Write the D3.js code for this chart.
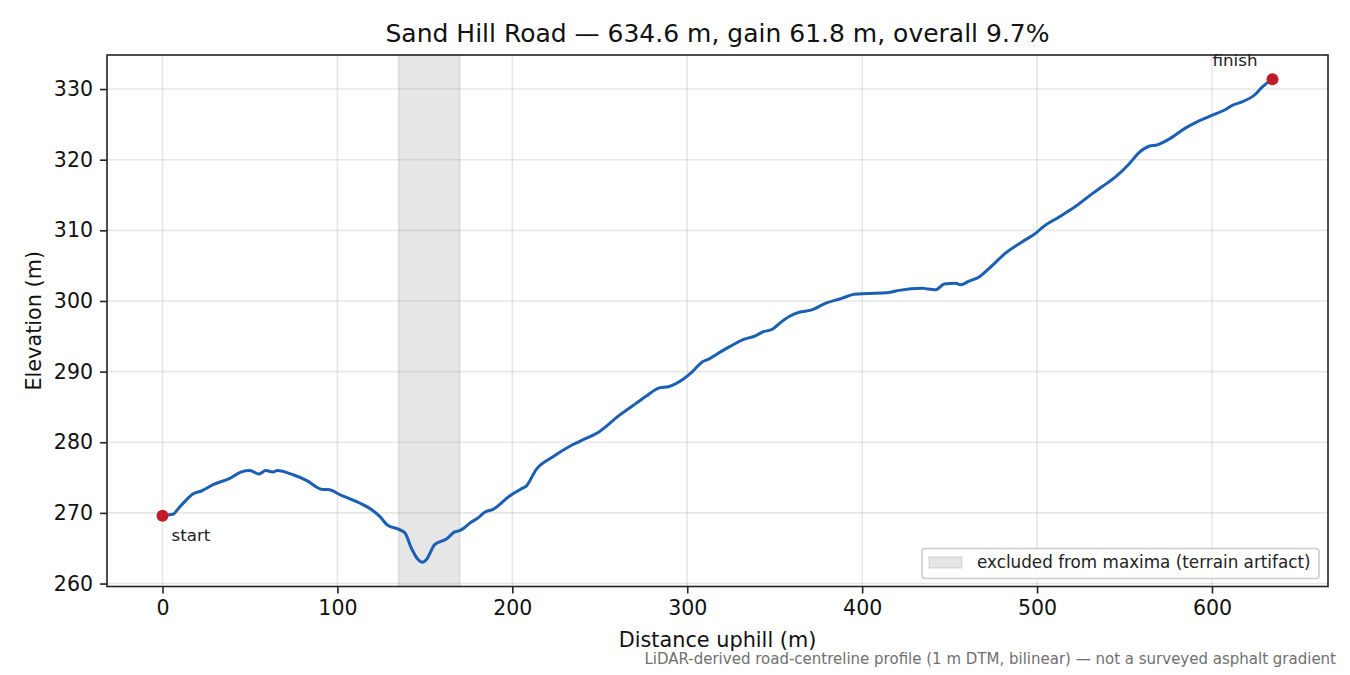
<!DOCTYPE html>
<html>
<head>
<meta charset="utf-8">
<script src="https://cdn.jsdelivr.net/npm/d3@7"></script>
<style>
    body { margin: 0; background: #fff; }
    svg { font-family: "DejaVu Sans", sans-serif; }
</style>
</head>
<body>
<div id="chart"></div>
<script>
// profile, metres along the road / metres elevation
const distance = [0, 3, 6, 9, 12.7, 17.5, 22.3, 29, 38.5, 45.1, 49.9, 55.2, 59, 63.2, 65.5, 74.7, 82.3, 91.8, 94.7,
    101.3, 112.7, 120.4, 124.2, 129, 133.7, 138.5, 142.3, 146.1, 148.6, 150.9, 155.6, 162.3, 167, 169.9, 176.6,
    180.4, 184.2, 189, 198.5, 205.9, 208, 213.5, 223, 232.6, 238.3, 249.7, 261.1, 270.7, 276.4, 284, 289.7, 293.5,
    303, 308.7, 312.6, 316.4, 324, 331.6, 339.3, 343, 348.7, 352.6, 358.3, 364, 370.7, 379.3, 388.7, 394.5, 398.3,
    415.4, 421.1, 434.5, 437.3, 442.1, 446.9, 453.5, 456.4, 461.1, 466.9, 472.6, 482.1, 491.6, 499.3, 503, 512.6,
    522.1, 531.6, 537.3, 545, 552.6, 558.3, 564, 568.8, 575.4, 585, 592.6, 600.2, 607.8, 611.6, 616.4, 625, 628.8,
    634.6];
const elevation = [269.6, 269.7, 269.8, 270.6, 271.6, 272.7, 273.1, 274.0, 274.9, 275.8, 276.0, 275.5, 276.0, 275.8,
    276.0, 275.4, 274.6, 273.3, 273.3, 272.6, 271.4, 270.3, 269.5, 268.2, 267.8, 267.2, 265.0, 263.4, 263.0, 263.4,
    265.5, 266.3, 267.3, 267.5, 268.7, 269.3, 270.1, 270.5, 272.4, 273.5, 273.8, 276.1, 277.9, 279.4, 280.1, 281.5,
    283.8, 285.5, 286.5, 287.7, 287.9, 288.3, 290.0, 291.4, 291.8, 292.4, 293.5, 294.5, 295.1, 295.6, 296.0, 296.8,
    297.8, 298.4, 298.7, 299.7, 300.4, 300.9, 301.0, 301.2, 301.5, 301.8, 301.7, 301.6, 302.4, 302.5, 302.3, 302.8,
    303.4, 304.6, 306.8, 308.4, 309.6, 310.4, 311.9, 313.4, 315.2, 316.2, 317.6, 319.4, 321.0, 321.9, 322.1, 322.9,
    324.5, 325.5, 326.3, 327.1, 327.7, 328.1, 329.3, 330.3, 331.4];
const excludedSpan = [135, 170];
const xTicks = [0, 100, 200, 300, 400, 500, 600];
const yTicks = [260, 270, 280, 290, 300, 310, 320, 330];

const titleText = "Sand Hill Road \u2014 634.6 m, gain 61.8 m, overall 9.7%";
const legendText = "excluded from maxima (terrain artifact)";
const footnoteText = "LiDAR-derived road-centreline profile (1 m DTM, bilinear) \u2014 not a surveyed asphalt gradient";

const width = 1350;
const height = 675;
const margin = { top: 55, right: 22, bottom: 88.5, left: 107 };
const innerWidth = width - margin.left - margin.right;
const innerHeight = height - margin.top - margin.bottom;

const points = distance.map((d, i) => ({ d: d, e: elevation[i] }));

// matplotlib-style 5% padding on both axes
const xExt = d3.extent(distance);
const yExt = d3.extent(elevation);
const xPad = (xExt[1] - xExt[0]) * 0.05;
const yPad = (yExt[1] - yExt[0]) * 0.05;

const x = d3.scaleLinear()
    .domain([xExt[0] - xPad, xExt[1] + xPad])
    .range([0, innerWidth]);

const y = d3.scaleLinear()
    .domain([yExt[0] - yPad, yExt[1] + yPad])
    .range([innerHeight, 0]);

const svg = d3.select("#chart")
    .append("svg")
    .attr("width", width)
    .attr("height", height);

const g = svg.append("g")
    .attr("transform", `translate(${margin.left}, ${margin.top})`);

// excluded band
g.append("rect")
    .attr("x", x(excludedSpan[0]))
    .attr("y", 0)
    .attr("width", x(excludedSpan[1]) - x(excludedSpan[0]))
    .attr("height", innerHeight)
    .attr("fill", "#808080")
    .attr("fill-opacity", 0.2)
    .attr("stroke", "#808080")
    .attr("stroke-opacity", 0.2)
    .attr("stroke-width", 1.5);

// grid
g.append("g")
    .selectAll("line")
    .data(xTicks)
    .join("line")
    .attr("x1", d => x(d))
    .attr("x2", d => x(d))
    .attr("y1", 0)
    .attr("y2", innerHeight)
    .attr("stroke", "#b0b0b0")
    .attr("stroke-opacity", 0.3)
    .attr("stroke-width", 1.6);

g.append("g")
    .selectAll("line")
    .data(yTicks)
    .join("line")
    .attr("x1", 0)
    .attr("x2", innerWidth)
    .attr("y1", d => y(d))
    .attr("y2", d => y(d))
    .attr("stroke", "#b0b0b0")
    .attr("stroke-opacity", 0.3)
    .attr("stroke-width", 1.6);

// profile line
const line = d3.line()
    .x(p => x(p.d))
    .y(p => y(p.e))
    .curve(d3.curveMonotoneX);

g.append("path")
    .datum(points)
    .attr("fill", "none")
    .attr("stroke", "#1a5fb4")
    .attr("stroke-width", 3)
    .attr("stroke-linejoin", "round")
    .attr("stroke-linecap", "round")
    .attr("d", line);

// start / finish markers
const ends = [points[0], points[points.length - 1]];
g.selectAll("circle.end")
    .data(ends)
    .join("circle")
    .attr("class", "end")
    .attr("cx", p => x(p.d))
    .attr("cy", p => y(p.e))
    .attr("r", 6)
    .attr("fill", "#c01c28");

g.append("text")
    .attr("x", x(ends[0].d) + 9)
    .attr("y", y(ends[0].e) + 25)
    .attr("font-size", 16.7)
    .attr("fill", "#222")
    .text("start");

g.append("text")
    .attr("x", x(ends[1].d) - 15)
    .attr("y", y(ends[1].e) - 13)
    .attr("text-anchor", "end")
    .attr("font-size", 16.7)
    .attr("fill", "#222")
    .text("finish");

// axes
const xAxis = d3.axisBottom(x).tickValues(xTicks).tickSize(7).tickPadding(7);
const yAxis = d3.axisLeft(y).tickValues(yTicks).tickSize(7).tickPadding(7);

const xg = g.append("g")
    .attr("transform", `translate(0, ${innerHeight})`)
    .call(xAxis);
const yg = g.append("g").call(yAxis);

[xg, yg].forEach(ax => {
    ax.select(".domain").remove();
    ax.selectAll(".tick line").attr("stroke", "#222").attr("stroke-width", 1.6);
    ax.selectAll(".tick text")
        .attr("font-size", 20.5)
        .attr("font-family", "DejaVu Sans")
        .attr("fill", "#111");
});

// frame
g.append("rect")
    .attr("width", innerWidth)
    .attr("height", innerHeight)
    .attr("fill", "none")
    .attr("stroke", "#222")
    .attr("stroke-width", 1.6);

// legend
const legend = g.append("g")
    .attr("transform", `translate(${innerWidth - 9 - 397}, ${innerHeight - 8 - 30})`);

legend.append("rect")
    .attr("width", 397)
    .attr("height", 30)
    .attr("rx", 3)
    .attr("fill", "#fff")
    .attr("fill-opacity", 0.8)
    .attr("stroke", "#cccccc")
    .attr("stroke-width", 1.6);

legend.append("rect")
    .attr("x", 7)
    .attr("y", 8.5)
    .attr("width", 33)
    .attr("height", 11)
    .attr("fill", "#808080")
    .attr("fill-opacity", 0.2)
    .attr("stroke", "#808080")
    .attr("stroke-opacity", 0.2)
    .attr("stroke-width", 1.5);

legend.append("text")
    .attr("x", 55)
    .attr("y", 19.5)
    .attr("font-size", 16.8)
    .attr("fill", "#222")
    .text(legendText);

// titles and labels
svg.append("text")
    .attr("x", margin.left + innerWidth / 2)
    .attr("y", 42)
    .attr("text-anchor", "middle")
    .attr("font-size", 25)
    .attr("fill", "#111")
    .text(titleText);

svg.append("text")
    .attr("x", margin.left + innerWidth / 2)
    .attr("y", 646.5)
    .attr("text-anchor", "middle")
    .attr("font-size", 20.8)
    .attr("fill", "#111")
    .text("Distance uphill (m)");

svg.append("text")
    .attr("transform", "rotate(-90)")
    .attr("x", -(margin.top + innerHeight / 2))
    .attr("y", 41)
    .attr("text-anchor", "middle")
    .attr("font-size", 20.8)
    .attr("fill", "#111")
    .text("Elevation (m)");

svg.append("text")
    .attr("x", 1336)
    .attr("y", 664)
    .attr("text-anchor", "end")
    .attr("font-size", 15)
    .attr("fill", "#707070")
    .text(footnoteText);
</script>
</body>
</html>
